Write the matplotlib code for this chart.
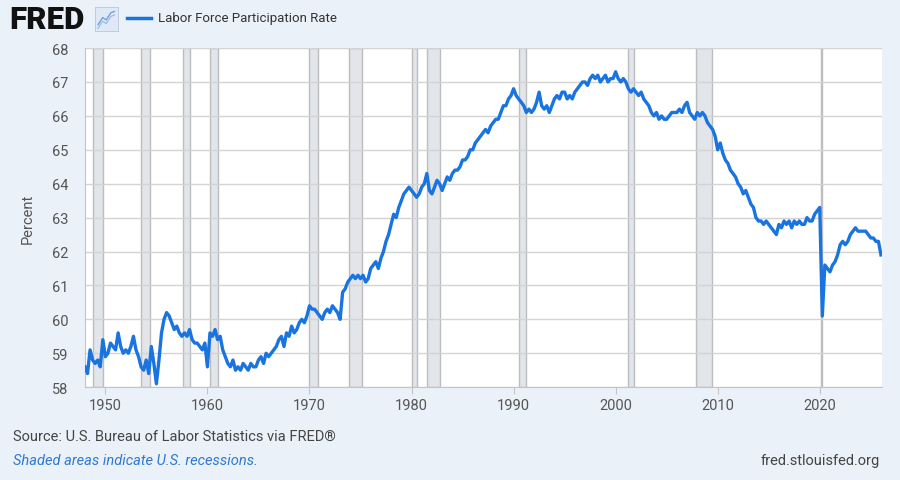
import matplotlib.pyplot as plt
import numpy as np

# quarterly readings of the civilian labor force participation rate (%)
years = list(range(1948, 2027))
rate_by_year = [
    [58.6, 58.4, 59.1, 58.8], [58.7, 58.8, 58.6, 59.4], [58.9, 59.0, 59.3, 59.2],
    [59.1, 59.6, 59.2, 59.0], [59.1, 59.0, 59.2, 59.5], [59.1, 58.9, 58.6, 58.5],
    [58.8, 58.4, 59.2, 58.7], [58.1, 58.8, 59.6, 60.0], [60.2, 60.1, 59.9, 59.7],
    [59.8, 59.6, 59.5, 59.6], [59.5, 59.7, 59.4, 59.3], [59.3, 59.2, 59.1, 59.3],
    [58.6, 59.6, 59.5, 59.7], [59.4, 59.5, 59.1, 58.9], [58.7, 58.6, 58.8, 58.5],
    [58.6, 58.5, 58.7, 58.6], [58.5, 58.7, 58.6, 58.6], [58.8, 58.9, 58.7, 59.0],
    [58.9, 59.0, 59.1, 59.2], [59.4, 59.5, 59.2, 59.6], [59.5, 59.8, 59.6, 59.7],
    [59.9, 60.0, 59.9, 60.1], [60.4, 60.3, 60.3, 60.2], [60.1, 60.0, 60.2, 60.3],
    [60.2, 60.4, 60.3, 60.2], [60.0, 60.8, 60.9, 61.1], [61.2, 61.3, 61.2, 61.3],
    [61.2, 61.3, 61.1, 61.2], [61.5, 61.6, 61.7, 61.5], [61.8, 62.0, 62.3, 62.5],
    [62.8, 63.1, 63.0, 63.3], [63.5, 63.7, 63.8, 63.9], [63.8, 63.7, 63.6, 63.7],
    [63.9, 64.0, 64.3, 63.8], [63.7, 63.9, 64.1, 64.0], [63.8, 64.0, 64.2, 64.1],
    [64.3, 64.4, 64.4, 64.5], [64.7, 64.7, 64.8, 65.0], [65.0, 65.2, 65.3, 65.4],
    [65.5, 65.6, 65.5, 65.7], [65.8, 65.9, 65.9, 66.1], [66.3, 66.3, 66.5, 66.6],
    [66.8, 66.6, 66.5, 66.4], [66.3, 66.1, 66.2, 66.1], [66.2, 66.4, 66.7, 66.3],
    [66.2, 66.3, 66.1, 66.3], [66.5, 66.6, 66.5, 66.7], [66.7, 66.5, 66.6, 66.5],
    [66.7, 66.8, 66.9, 67.0], [67.0, 66.9, 67.1, 67.2], [67.1, 67.2, 67.0, 67.1],
    [67.2, 67.0, 67.1, 67.1], [67.3, 67.1, 67.0, 67.1], [67.0, 66.8, 66.7, 66.8],
    [66.7, 66.6, 66.7, 66.5], [66.4, 66.3, 66.1, 66.0], [66.1, 65.9, 66.0, 65.9],
    [65.9, 66.0, 66.1, 66.1], [66.1, 66.2, 66.1, 66.3], [66.4, 66.1, 66.0, 65.9],
    [66.1, 66.0, 66.1, 66.0], [65.8, 65.7, 65.6, 65.4], [65.0, 65.2, 64.9, 64.7],
    [64.6, 64.4, 64.3, 64.2], [64.0, 63.9, 63.7, 63.8], [63.6, 63.4, 63.3, 63.0],
    [62.9, 62.9, 62.8, 62.9], [62.8, 62.7, 62.6, 62.5], [62.8, 62.7, 62.9, 62.8],
    [62.9, 62.7, 62.9, 62.8], [62.9, 62.8, 62.8, 63.0], [62.9, 62.9, 63.1, 63.2],
    [63.3, 60.1, 61.6, 61.5], [61.4, 61.6, 61.7, 61.9], [62.2, 62.3, 62.2, 62.3],
    [62.5, 62.6, 62.7, 62.6], [62.6, 62.6, 62.6, 62.5], [62.4, 62.4, 62.3, 62.3],
    [61.9],
]

# NBER recessions as (start, end) in fractional years
recessions = [(1948.83, 1949.75), (1953.5, 1954.33), (1957.58, 1958.25),
              (1960.25, 1961.08), (1969.92, 1970.83), (1973.83, 1975.17),
              (1980.0, 1980.5), (1981.5, 1982.83), (1990.5, 1991.17),
              (2001.17, 2001.83), (2007.92, 2009.42), (2020.08, 2020.25)]

icon_a = [0.15, 0.35, 0.5, 0.7, 0.85]
icon_b = [0.25, 0.55, 0.45, 0.75, 0.8]

t = []
v = []
for y, vals in zip(years, rate_by_year):
    for q, val in enumerate(vals):
        t.append(y + q * 0.25)
        v.append(val)

bg = '#eaf1f9'
blue = '#1a74e0'
plt.rcParams['font.family'] = ['Roboto', 'DejaVu Sans']

fig = plt.figure(figsize=(9, 4.81), dpi=100, facecolor=bg)
ax = fig.add_axes([0.0944, 0.193, 0.8856, 0.705])
ax.set_facecolor('white')

for s, e in recessions:
    ax.axvspan(s, e, facecolor='#e2e5e9', edgecolor='#bdbdbd', linewidth=1.0, zorder=1)

ax.plot(t, v, color=blue, linewidth=2.4, zorder=3, solid_joinstyle='round')

ax.set_xlim(1948.0, 2026.1)
ax.set_ylim(58, 68)
ax.set_yticks(np.arange(58, 69, 1))
ax.set_xticks(np.arange(1950, 2021, 10))
ax.grid(axis='y', color='#d3d3d3', linewidth=1.0, zorder=0)
for side in ['top', 'right']:
    ax.spines[side].set_visible(False)
for side in ['left', 'bottom']:
    ax.spines[side].set_color('#c4c4c4')
ax.tick_params(axis='y', length=0, pad=12, labelsize=10.5, labelcolor='#555555')
ax.tick_params(axis='x', length=5, color='#c4c4c4', pad=3, labelsize=10.5, labelcolor='#555555')
ax.set_ylabel('Percent', fontsize=10.5, color='#555555', labelpad=12)

# header
fig.text(0.010, 0.958, 'FRED', fontsize=22.5, fontweight='black', color='#111111',
         va='center', ha='left')
icon = fig.add_axes([0.105, 0.934, 0.026, 0.05])
icon.set_facecolor('#dfe9f5')
icon.plot(icon_a, icon_b, color='#6a9be0', linewidth=0.9)
icon.plot(icon_a, [b - 0.15 for b in icon_b], color='#9dbbe6', linewidth=0.9)
icon.set_xlim(0, 1)
icon.set_ylim(0, 1)
icon.set_xticks([])
icon.set_yticks([])
for sp in icon.spines.values():
    sp.set_color('#b8c7d9')
    sp.set_linewidth(0.6)
fig.add_artist(plt.Line2D([0.141, 0.168], [0.961, 0.961], color=blue, linewidth=2.5))
fig.text(0.175, 0.961, 'Labor Force Participation Rate', fontsize=9.5, color='#333333',
         va='center', ha='left')

# footer
fig.text(0.014, 0.091, 'Source: U.S. Bureau of Labor Statistics via FRED®', fontsize=10.5,
         color='#444444', va='center')
fig.text(0.014, 0.041, 'Shaded areas indicate U.S. recessions.', fontsize=10.5,
         color='#2f79d0', style='italic', va='center')
fig.text(0.978, 0.041, 'fred.stlouisfed.org', fontsize=10.5, color='#444444',
         va='center', ha='right')

fig.savefig('out.png', dpi=100, facecolor=bg)
